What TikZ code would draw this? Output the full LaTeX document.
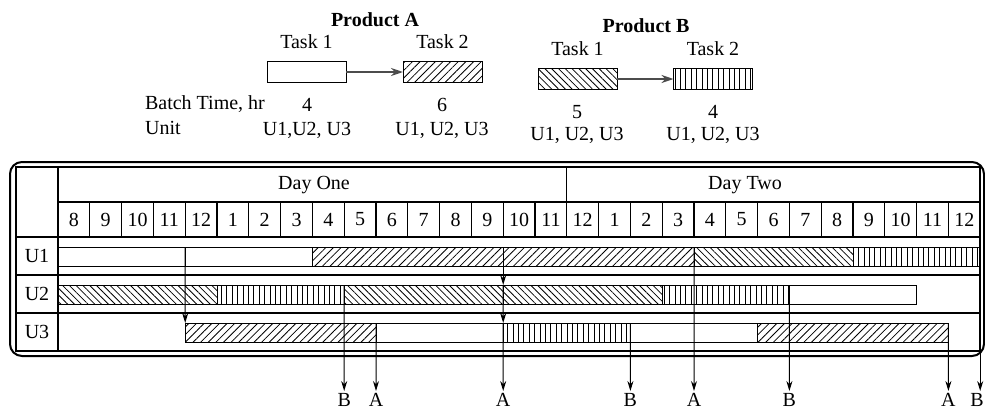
\documentclass[tikz,border=0pt]{standalone}
\usepackage{fontspec}
\setmainfont{Liberation Serif}
\usetikzlibrary{arrows.meta,positioning,patterns.meta}

\begin{document}
\begin{tikzpicture}[x=0.5pt, y=-0.5pt, >=Stealth,
    font=\fontsize{10}{12}\selectfont,
    % ---- styles ----
    T/.style={font=\fontsize{10}{12}\selectfont\bfseries},
    cell/.style={draw, line width=0.5pt, inner sep=0pt, outer sep=0pt},
    task/.style={cell, minimum width=39.5pt, minimum height=10.5pt},
    bar/.style={cell, anchor=west, minimum height=9.5pt},
    pA1/.style={fill=white},
    pA2/.style={pattern={Lines[angle=45, distance=2.7pt, line width=0.4pt]}},
    pB1/.style={pattern={Lines[angle=-45, distance=2.4pt, line width=0.4pt]}},
    pB2/.style={pattern={Lines[angle=90, distance=2.7pt, line width=0.4pt]}},
    G/.style={line width=0.6pt},
    L/.style={inner sep=1pt},
    A/.style={-{Stealth[length=5pt, width=3pt]}, line width=0.5pt},
    F/.style={-{Stealth[length=6pt, width=4pt]}, line width=1.2pt, color=black!70},
]
\useasboundingbox (0,0) rectangle (985,413);

% ===== Recipes =====
\node[T] (prodA) at (375,20) {Product A};
\node[task, pA1] (tA1) at (306.5,72) {};
\node[task, pA2] (tA2) at (442.5,72) {};
\node[above=3pt of tA1] (lA1) {Task 1};
\node[above=3pt of tA2] (lA2) {Task 2};
\draw[F] (tA1) -- (tA2);

\node[T] (prodB) at (646,26) {Product B};
\node[task, pB1] (tB1) at (577.5,79) {};
\node[task, pB2] (tB2) at (713,79) {};
\node[above=3pt of tB1] (lB1) {Task 1};
\node[above=3pt of tB2] (lB2) {Task 2};
\draw[F] (tB1) -- (tB2);

\node[anchor=west] (bt)   at (138,104) {Batch Time, hr};
\node[anchor=west] (unit) at (138,128) {Unit};
\node (btA1) at (307,105) {4};
\node (btA2) at (442,105) {6};
\node (btB1) at (577,112) {5};
\node (btB2) at (713,112) {4};
\node (uA1) at (307,130) {U1,U2, U3};
\node (uA2) at (442,130) {U1, U2, U3};
\node (uB1) at (577,135) {U1, U2, U3};
\node (uB2) at (713,135) {U1, U2, U3};

% ===== Chart frame and grid =====
\draw[line width=1pt, rounded corners=6pt] (10,162) rectangle (984,356);
\draw[G] (16,167) rectangle (980,351);
\draw[G] (58,167) -- (58,351);
\draw[G] (58,202) -- (980,202);
\foreach \y in {237,275,313}
    \draw[G] (16,\y) -- (980,\y);
\draw[G] ({58+31.8*16},167) -- ({58+31.8*16},202);
\foreach \i in {1,...,28}
    \draw[G] ({58+31.8*\i},202) -- ({58+31.8*\i},237);

\node (day1) at (314,185) {Day One};
\node (day2) at (745,185) {Day Two};
\foreach \t [count=\i from 0] in {8,9,10,11,12,1,2,3,4,5,6,7,8,9,10,11,12,1,2,3,4,5,6,7,8,9,10,11,12}
    \node (h\i) at ({58+31.8*(\i+0.5)},219.5) {\t};

\node (U1) at (37,256) {U1};
\node (U2) at (37,294) {U2};
\node (U3) at (37,332) {U3};

% ===== Schedule bars =====
\foreach \n/\r/\s/\e/\k in {u1s1/1/0/4/pA1, u1s2/1/4/8/pA1, u1s3/1/8/14/pA2,
        u1s4/1/14/20/pA2, u1s5/1/20/25/pB1, u1s6/1/25/29/pB2,
        u2s1/2/0/5/pB1, u2s2/2/5/9/pB2, u2s3/2/9/14/pB1,
        u2s4/2/14/19/pB1, u2s5/2/19/23/pB2, u2s6/2/23/27/pA1,
        u3s1/3/4/10/pA2, u3s2/3/10/14/pA1, u3s3/3/14/18/pB2,
        u3s4/3/18/22/pA1, u3s5/3/22/28/pA2}
    \node[bar, \k, minimum width={(\e-\s)*15.9pt}] (\n) at ({58+31.8*\s},{218.5+38*\r}) {};

% ===== Products leaving =====
\node[L] (oB1) at ({58+31.8*9},400)  {B};
\node[L] (oA1) at ({58+31.8*10},400) {A};
\node[L] (oA2) at ({58+31.8*14},400) {A};
\node[L] (oB2) at ({58+31.8*18},400) {B};
\node[L] (oA3) at ({58+31.8*20},400) {A};
\node[L] (oB3) at ({58+31.8*23},400) {B};
\node[L] (oA4) at ({58+31.8*28},400) {A};
\node[L] (oB4) at (977,400) {B};

% transfers and outputs
\draw[A] (u1s1.north east) -- (u3s1.north west);
\draw[A] (u2s2.north east) -- (oB1.north);
\draw[A] (u3s1.north east) -- (oA1.north);
\draw[A] (u1s3.north east) -- (u2s3.north east);
\draw[A] (u2s3.north east) -- (u3s2.north east);
\draw[A] (u3s2.north east) -- (oA2.north);
\draw[A] (u3s3.north east) -- (oB2.north);
\draw[A] (u1s4.north east) -- (oA3.north);
\draw[A] (u2s5.north east) -- (oB3.north);
\draw[A] (u3s5.north east) -- (oA4.north);
\draw[A] (u1s6.north east) -- (u1s6.north east |- oB4.north);

\end{tikzpicture}
\end{document}
